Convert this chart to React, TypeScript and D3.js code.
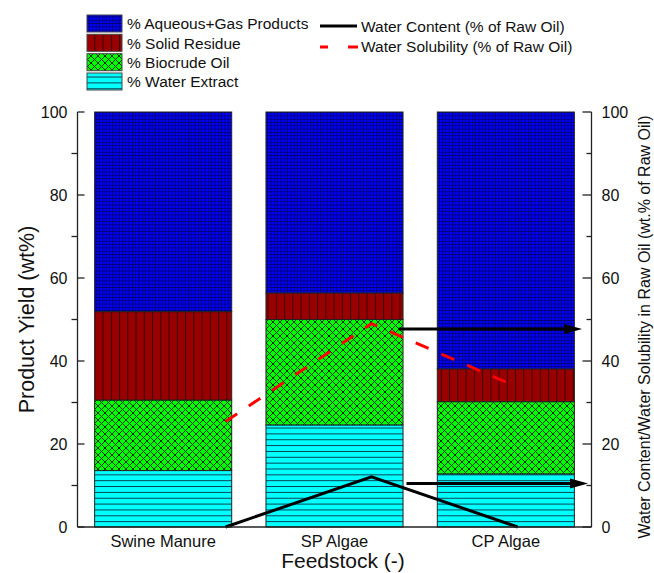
import React from "react";
import * as d3 from "d3";

const categories = ["Swine Manure", "SP Algae", "CP Algae"];
const waterExtract = [13.6, 24.6, 12.8];
const biocrudeOil = [17.0, 25.4, 17.4];
const solidResidue = [21.3, 6.4, 7.9];
const aqueousGas = [48.1, 43.6, 61.9];
const waterContent = [0, 12.1, 0];
const waterSolubility = [25.4, 49.0, 33.7];
const linePositions = [0.864, 1.716, 2.569];
const arrowValues = [47.7, 10.5];
const arrowStarts = [1.875, 1.92];
const arrowEnds = [2.945, 2.98];
const yTicks = [0, 20, 40, 60, 80, 100];
const yMinorTicks = [10, 30, 50, 70, 90];
const seriesKeys = ["water", "bio", "solid", "aq"];
const seriesLabels = ["% Water Extract", "% Biocrude Oil", "% Solid Residue", "% Aqueous+Gas Products"];
const seriesFills = ["url(#pWater)", "url(#pBio)", "url(#pSolid)", "url(#pAq)"];

const W = 654, H = 573;
const L = 77.5, R = 591.5, T = 112, B = 527;
const FONT = "Arial, 'Liberation Sans', sans-serif";

export default function App() {
  const x = d3.scaleBand<string>().domain(categories).range([L, R]).paddingInner(0.2).paddingOuter(0.1);
  const y = d3.scaleLinear().domain([0, 100]).range([B, T]);
  const xu = d3.scaleLinear().domain([0, 3]).range([L, R]);

  const rows = categories.map((c, i) => ({
    cat: c, water: waterExtract[i], bio: biocrudeOil[i], solid: solidResidue[i], aq: aqueousGas[i],
  }));
  const stacked = d3.stack<any>().keys(seriesKeys)(rows);

  const line = d3.line<number>().x((_, i) => xu(linePositions[i])).y((d) => y(d));

  const legendOrder = [3, 2, 1, 0];
  const legendTops = [15, 34.3, 53.7, 73];

  return (
    <svg width={W} height={H} style={{ position: "absolute", left: 0, top: 0, background: "#fff" }} fontFamily={FONT}>
      <defs>
        <pattern id="pAq" patternUnits="userSpaceOnUse" width={3.3} height={3.3}>
          <rect width={3.3} height={3.3} fill="#0000ff" />
          <path d="M0,0.4 H3.3 M0.4,0 V3.3" stroke="#000070" strokeWidth={0.9} />
        </pattern>
        <pattern id="pSolid" patternUnits="userSpaceOnUse" width={8.25} height={10} x={94.3}>
          <rect width={8.25} height={10} fill="#990000" />
          <path d="M0.5,0 V10" stroke="#3a0000" strokeWidth={1} />
        </pattern>
        <pattern id="pBio" patternUnits="userSpaceOnUse" width={7} height={7}>
          <rect width={7} height={7} fill="#00ff00" />
          <path d="M0,0 L7,7 M7,0 L0,7 M-1,6 L1,8 M6,-1 L8,1" stroke="#0b300b" strokeWidth={1} />
        </pattern>
        <pattern id="pWater" patternUnits="userSpaceOnUse" width={10} height={5.85} y={B}>
          <rect width={10} height={5.85} fill="#00ffff" />
          <path d="M0,0.5 H10" stroke="#0a3f50" strokeWidth={1} />
        </pattern>
      </defs>

      {/* bars */}
      {stacked.map((s, si) => (
        <g key={s.key}>
          {s.map((d, i) => (
            <rect
              key={i}
              x={x(categories[i])}
              width={x.bandwidth()}
              y={y(d[1])}
              height={y(d[0]) - y(d[1])}
              fill={seriesFills[si]}
              stroke="#222"
              strokeWidth={1}
            />
          ))}
        </g>
      ))}

      {/* lines */}
      <path d={line(waterContent) || ""} fill="none" stroke="#000" strokeWidth={3} />
      <path d={line(waterSolubility) || ""} fill="none" stroke="#ff0000" strokeWidth={3} strokeDasharray="14,14" />

      {/* arrows */}
      {arrowValues.map((v, i) => {
        const x0 = xu(arrowStarts[i]);
        const x1 = xu(arrowEnds[i]);
        const yy = y(v);
        return (
          <g key={i}>
            <line x1={x0} x2={x1 - 14} y1={yy} y2={yy} stroke="#000" strokeWidth={3} />
            <path d={`M${x1},${yy} L${x1 - 18},${yy - 5} L${x1 - 18},${yy + 5} Z`} fill="#000" />
          </g>
        );
      })}

      {/* left axis */}
      <line x1={L} x2={L} y1={T} y2={B} stroke="#222" strokeWidth={1.3} />
      {yTicks.map((t) => (
        <g key={"l" + t}>
          <line x1={L} x2={L + 7} y1={y(t)} y2={y(t)} stroke="#222" strokeWidth={1.3} />
          <text x={L - 10} y={y(t)} dy="0.35em" textAnchor="end" fontSize={16} fill="#111">{t}</text>
        </g>
      ))}
      {yMinorTicks.map((t) => (
        <line key={"lm" + t} x1={L - 6} x2={L} y1={y(t)} y2={y(t)} stroke="#222" strokeWidth={1.3} />
      ))}

      {/* right axis */}
      <line x1={R} x2={R} y1={T} y2={B} stroke="#222" strokeWidth={1.3} />
      {yTicks.map((t) => (
        <g key={"r" + t}>
          <line x1={R - 9} x2={R} y1={y(t)} y2={y(t)} stroke="#222" strokeWidth={1.3} />
          <text x={R + 10} y={y(t)} dy="0.35em" textAnchor="start" fontSize={16} fill="#111">{t}</text>
        </g>
      ))}
      {yMinorTicks.map((t) => (
        <line key={"rm" + t} x1={R - 5} x2={R} y1={y(t)} y2={y(t)} stroke="#222" strokeWidth={1.3} />
      ))}

      {/* bottom axis */}
      <line x1={L} x2={R} y1={B} y2={B} stroke="#222" strokeWidth={1.3} />
      {categories.map((c) => (
        <text key={c} x={(x(c) as number) + x.bandwidth() / 2} y={547} textAnchor="middle" fontSize={16.5} fill="#111">{c}</text>
      ))}

      {/* axis titles */}
      <text x={343} y={568} textAnchor="middle" fontSize={21} fill="#111">Feedstock (-)</text>
      <text transform={`translate(34,${(T + B) / 2}) rotate(-90)`} textAnchor="middle" fontSize={21.5} fill="#111">Product Yield (wt%)</text>
      <text transform={`translate(650,327) rotate(-90)`} textAnchor="middle" fontSize={16} fill="#111">Water Content/Water Solubility in Raw Oil (wt.% of Raw Oil)</text>

      {/* legend */}
      {legendOrder.map((si, k) => (
        <g key={"lg" + si}>
          <rect x={87} y={legendTops[k]} width={35} height={17} fill={seriesFills[si]} stroke="#444" strokeWidth={1} />
          <text x={127} y={legendTops[k] + 14.3} fontSize={15.5} fill="#111">{seriesLabels[si]}</text>
        </g>
      ))}
      <line x1={320} x2={357} y1={26} y2={26} stroke="#000" strokeWidth={3} />
      <text x={361} y={31.5} fontSize={15.5} fill="#111">Water Content (% of Raw Oil)</text>
      <line x1={320} x2={358} y1={47} y2={47} stroke="#ff0000" strokeWidth={3} strokeDasharray="8,20,10" />
      <text x={361} y={51.5} fontSize={15.5} fill="#111">Water Solubility (% of Raw Oil)</text>
    </svg>
  );
}
